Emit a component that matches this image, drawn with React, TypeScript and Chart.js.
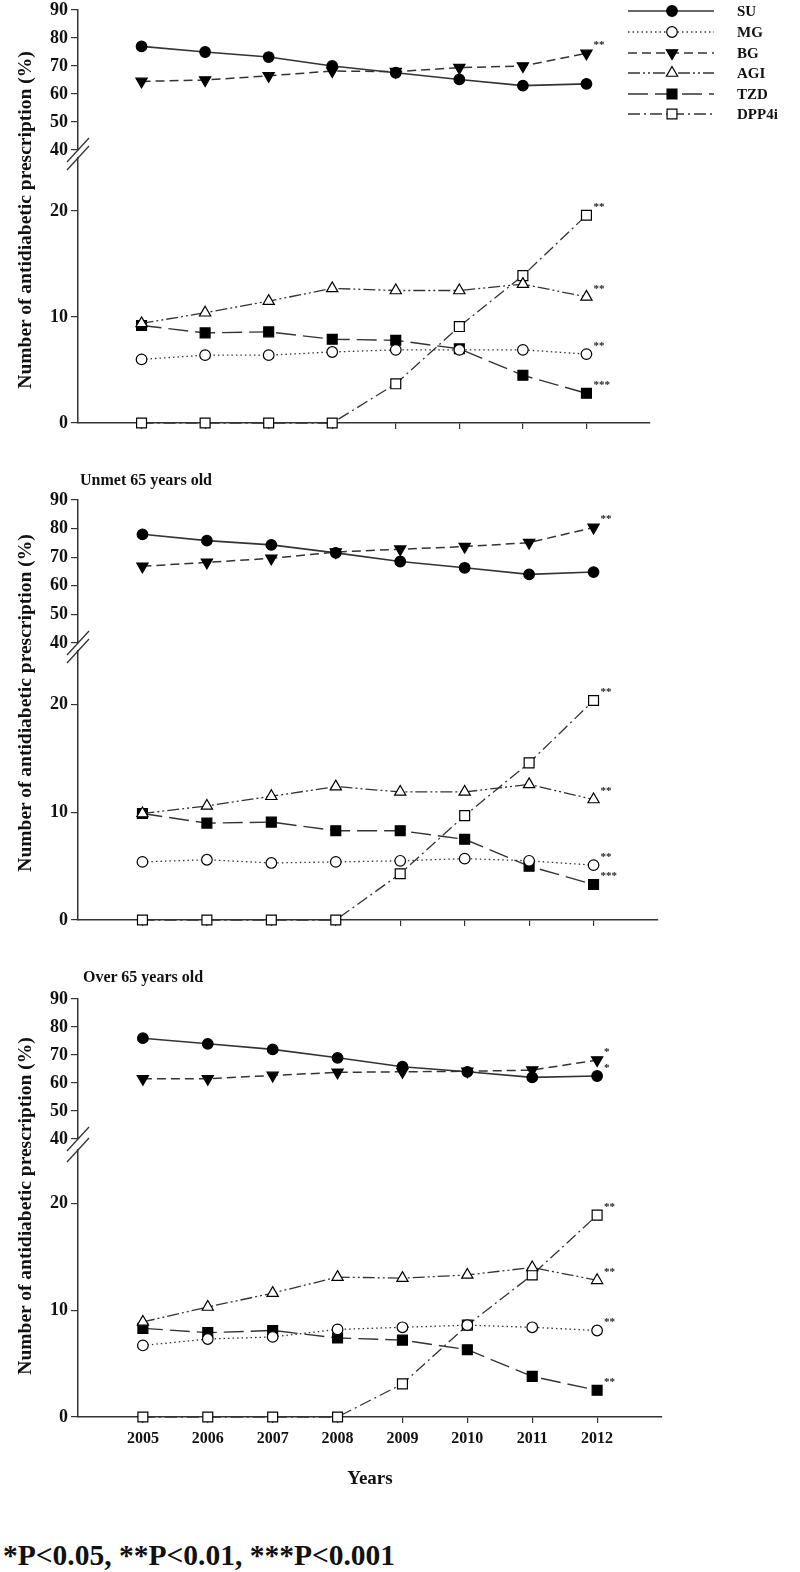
import React, { useEffect, useRef } from 'react';
import { Chart, registerables } from 'chart.js';

Chart.register(...registerables);

const FONT = "'Liberation Serif', 'Times New Roman', serif";
Chart.defaults.font.family = FONT;
Chart.defaults.font.weight = 'bold';

// ---------- data ----------
const years = [2005, 2006, 2007, 2008, 2009, 2010, 2011, 2012];
const seriesNames = ['SU', 'MG', 'BG', 'AGI', 'TZD', 'DPP4i'];
const upperTicks = [40, 50, 60, 70, 80, 90];
const lowerTicks = [0, 10, 20];

// Panel 1 (all patients)
const su1 = [77, 75, 73.2, 70, 67.6, 65.2, 63, 63.6];
const mg1 = [6.0, 6.4, 6.4, 6.7, 6.9, 6.9, 6.9, 6.5];
const bg1 = [64.5, 65, 66.5, 68.2, 68, 69.4, 70, 74.5];
const agi1 = [9.4, 10.4, 11.5, 12.7, 12.5, 12.5, 13.1, 11.9];
const tzd1 = [9.2, 8.5, 8.6, 7.9, 7.8, 7.0, 4.5, 2.8];
const dpp1 = [0, 0, 0, 0, 3.7, 9.1, 13.9, 19.6];
const sig1 = ['', '**', '**', '**', '***', '**'];

// Panel 2 (Unmet 65 years old)
const su2 = [78, 75.8, 74.3, 71.5, 68.5, 66.3, 64, 64.8];
const mg2 = [5.4, 5.6, 5.3, 5.4, 5.5, 5.7, 5.5, 5.1];
const bg2 = [66.8, 68.2, 69.6, 71.8, 72.8, 73.7, 75.1, 80.4];
const agi2 = [9.9, 10.6, 11.5, 12.4, 11.9, 11.9, 12.6, 11.2];
const tzd2 = [9.9, 9.0, 9.1, 8.3, 8.3, 7.5, 5.0, 3.3];
const dpp2 = [0, 0, 0, 0, 4.3, 9.7, 14.6, 20.4];
const sig2 = ['', '**', '**', '**', '***', '**'];

// Panel 3 (Over 65 years old)
const su3 = [76, 74, 72, 69, 65.8, 64, 62, 62.5];
const mg3 = [6.7, 7.3, 7.5, 8.2, 8.4, 8.6, 8.4, 8.1];
const bg3 = [61.5, 61.5, 62.7, 63.8, 64, 64.2, 64.6, 68.2];
const agi3 = [8.9, 10.3, 11.6, 13.1, 13.0, 13.3, 14.0, 12.8];
const tzd3 = [8.3, 7.9, 8.1, 7.4, 7.2, 6.3, 3.8, 2.5];
const dpp3 = [0, 0, 0, 0, 3.1, 8.6, 13.3, 18.9];
const sig3 = ['*', '**', '*', '**', '**', '**'];

const panelTitles = ['', 'Unmet 65 years old', 'Over 65 years old'];
const yTitle = 'Number of antidiabetic prescription (%)';
const xTitle = 'Years';
const footnote = '*P<0.05, **P<0.01, ***P<0.001';

// ---------- styles ----------
const STYLES: any = {
  SU: { dash: [], point: 'circle', r: 5.3, fill: '#000', width: 1.6, rot: 0 },
  MG: { dash: [1.5, 3], point: 'circle', r: 5.3, fill: '#fff', width: 1.3, rot: 0 },
  BG: { dash: [9, 5], point: 'triangle', r: 6.5, fill: '#000', width: 1.5, rot: 180 },
  AGI: { dash: [12, 3, 2, 3, 2, 3], point: 'triangle', r: 6.5, fill: '#fff', width: 1.3, rot: 0 },
  TZD: { dash: [20, 7], point: 'rect', r: 7, fill: '#000', width: 1.4, rot: 0 },
  DPP4i: { dash: [12, 4, 2, 4], point: 'rect', r: 7, fill: '#fff', width: 1.3, rot: 0 },
};
const LINE = '#333';

function ds(name: string, data: number[], sig: string) {
  const s = STYLES[name];
  return {
    label: name,
    data: data.map((v, i) => ({ x: years[i], y: v })),
    borderColor: LINE,
    borderWidth: s.width,
    borderDash: s.dash,
    pointStyle: s.point,
    pointRadius: s.r,
    pointRotation: s.rot,
    pointBackgroundColor: s.fill,
    pointBorderColor: '#000',
    pointBorderWidth: 1.2,
    fill: false,
    tension: 0,
    clip: false,
    sig,
  };
}

function drawMarker(ctx: CanvasRenderingContext2D, name: string, x: number, y: number) {
  const s = STYLES[name];
  ctx.save();
  ctx.setLineDash([]);
  ctx.beginPath();
  if (s.point === 'circle') {
    ctx.arc(x, y, s.r, 0, Math.PI * 2);
  } else if (s.point === 'triangle') {
    let rad = (s.rot * Math.PI) / 180;
    ctx.moveTo(x + Math.sin(rad) * s.r, y - Math.cos(rad) * s.r);
    rad += (2 * Math.PI) / 3;
    ctx.lineTo(x + Math.sin(rad) * s.r, y - Math.cos(rad) * s.r);
    rad += (2 * Math.PI) / 3;
    ctx.lineTo(x + Math.sin(rad) * s.r, y - Math.cos(rad) * s.r);
    ctx.closePath();
  } else {
    const h = Math.SQRT1_2 * s.r;
    ctx.rect(x - h, y - h, 2 * h, 2 * h);
  }
  ctx.fillStyle = s.fill;
  ctx.fill();
  ctx.lineWidth = 1.2;
  ctx.strokeStyle = '#000';
  ctx.stroke();
  ctx.restore();
}

const legendPlugin = {
  id: 'customLegend',
  afterDraw(chart: any) {
    if (!chart.options.plugins.customLegend?.show) return;
    const ctx = chart.ctx;
    const ys = [15, 36, 57, 77, 98, 118];
    seriesNames.forEach((name, i) => {
      const s = STYLES[name];
      const y = ys[i];
      ctx.save();
      ctx.strokeStyle = LINE;
      ctx.lineWidth = s.width;
      ctx.setLineDash(s.dash);
      ctx.beginPath();
      ctx.moveTo(628, y);
      ctx.lineTo(714, y);
      ctx.stroke();
      ctx.restore();
      drawMarker(ctx, name, 672, y);
      ctx.save();
      ctx.fillStyle = '#111';
      ctx.font = `bold 15px ${FONT}`;
      ctx.textAlign = 'left';
      ctx.textBaseline = 'middle';
      ctx.fillText(name, 737, y + 1);
      ctx.restore();
    });
  },
};

const sigPlugin = {
  id: 'sigMarks',
  afterDatasetsDraw(chart: any) {
    const ctx = chart.ctx;
    chart.data.datasets.forEach((d: any, i: number) => {
      if (!d.sig) return;
      const meta = chart.getDatasetMeta(i);
      const el = meta.data[meta.data.length - 1];
      ctx.save();
      ctx.fillStyle = '#222';
      ctx.font = `bold 11px ${FONT}`;
      ctx.textAlign = 'left';
      ctx.textBaseline = 'middle';
      ctx.fillText(d.sig, el.x + 7, el.y - 8);
      ctx.restore();
    });
  },
};

const breakPlugin = {
  id: 'axisBreak',
  afterDraw(chart: any) {
    const opt = chart.options.plugins.axisBreak;
    if (!opt?.gap) return;
    const ctx = chart.ctx;
    const x = chart.chartArea.left;
    const t = chart.chartArea.top;
    ctx.save();
    ctx.strokeStyle = '#333';
    ctx.lineWidth = 1.3;
    [t - opt.gap, t].forEach((c) => {
      ctx.beginPath();
      ctx.moveTo(x - 11, c + 12);
      ctx.lineTo(x + 11, c - 12);
      ctx.stroke();
    });
    ctx.restore();
  },
};

type Spec = {
  top: number;
  height: number;
  axisX: number;
  axisEnd: number;
  padTop: number;
  padBottom: number;
  yMin: number;
  yMax: number;
  yTicks: number[];
  xMode: 'none' | 'ticks' | 'full';
  xHeight: number;
  datasets: any[];
  legend?: boolean;
  gap?: number;
};

function buildConfig(spec: Spec): any {
  return {
    type: 'line',
    data: { datasets: spec.datasets },
    plugins: [legendPlugin, sigPlugin, breakPlugin],
    options: {
      responsive: false,
      maintainAspectRatio: false,
      animation: false,
      devicePixelRatio: 1,
      events: [],
      layout: { padding: { top: spec.padTop, bottom: spec.padBottom, left: 0, right: 800 - spec.axisEnd } },
      plugins: {
        legend: { display: false },
        tooltip: { enabled: false },
        customLegend: { show: !!spec.legend },
        axisBreak: { gap: spec.gap || 0 },
      },
      scales: {
        x: {
          type: 'linear',
          min: 2004,
          max: 2013,
          display: spec.xMode !== 'none',
          afterBuildTicks: (s: any) => {
            s.ticks = years.map((v) => ({ value: v }));
          },
          afterFit: (s: any) => {
            s.height = spec.xHeight;
          },
          ticks: {
            display: spec.xMode === 'full',
            autoSkip: false,
            maxRotation: 0,
            padding: 6,
            color: '#111',
            font: { size: 16, weight: 'bold' },
            callback: (v: any) => String(v),
          },
          grid: { drawOnChartArea: false, drawTicks: true, tickLength: 6, color: '#333', lineWidth: 1.2 },
          border: { display: true, color: '#333', width: 1.5 },
          title: {
            display: spec.xMode === 'full',
            text: xTitle,
            color: '#111',
            font: { size: 19, weight: 'bold' },
            padding: { top: 0, bottom: 0 },
          },
        },
        y: {
          type: 'linear',
          position: 'left',
          min: spec.yMin,
          max: spec.yMax,
          afterBuildTicks: (s: any) => {
            s.ticks = spec.yTicks.map((v) => ({ value: v }));
          },
          afterFit: (s: any) => {
            s.width = spec.axisX;
          },
          ticks: { color: '#111', padding: 3, font: { size: 18, weight: 'bold' } },
          grid: { drawOnChartArea: false, drawTicks: true, tickLength: 7, color: '#333', lineWidth: 1.2 },
          border: { display: true, color: '#333', width: 1.5 },
        },
      },
    },
  };
}

function ChartCanvas({ spec }: { spec: Spec }) {
  const ref = useRef<HTMLCanvasElement | null>(null);
  useEffect(() => {
    if (!ref.current) return;
    const chart = new Chart(ref.current, buildConfig(spec));
    return () => chart.destroy();
  }, []);
  return (
    <canvas
      ref={ref}
      width={800}
      height={spec.height}
      style={{ position: 'absolute', left: 0, top: spec.top, width: 800, height: spec.height }}
    />
  );
}

type PanelGeom = {
  upperTop: number;
  upperBottom: number;
  lowerTop: number;
  zeroY: number;
  axisX: number;
  axisEnd: number;
  full: boolean;
  legend: boolean;
};

function panelSpecs(g: PanelGeom, su: number[], mg: number[], bg: number[], agi: number[], tzd: number[], dpp: number[], sig: string[]): Spec[] {
  const padU = 14;
  const upper: Spec = {
    top: g.upperTop - padU,
    height: g.upperBottom - g.upperTop + padU * 2,
    axisX: g.axisX,
    axisEnd: g.axisEnd,
    padTop: padU,
    padBottom: padU,
    yMin: 40,
    yMax: 90,
    yTicks: upperTicks,
    xMode: 'none',
    xHeight: 0,
    datasets: [ds('SU', su, sig[0]), ds('BG', bg, sig[2])],
    legend: g.legend,
  };
  const padT = 24;
  const xH = g.full ? 73 : 10;
  const padB = g.full ? 4 : 6;
  const lower: Spec = {
    top: g.lowerTop - padT,
    height: g.zeroY - g.lowerTop + padT + xH + padB,
    axisX: g.axisX,
    axisEnd: g.axisEnd,
    padTop: padT,
    padBottom: padB,
    yMin: 0,
    yMax: 25,
    yTicks: lowerTicks,
    xMode: g.full ? 'full' : 'ticks',
    xHeight: xH,
    datasets: [ds('MG', mg, sig[1]), ds('AGI', agi, sig[3]), ds('TZD', tzd, sig[4]), ds('DPP4i', dpp, sig[5])],
    gap: g.lowerTop - g.upperBottom,
  };
  return [upper, lower];
}

const geoms: PanelGeom[] = [
  { upperTop: 10, upperBottom: 150, lowerTop: 158, zeroY: 423, axisX: 78, axisEnd: 650, full: false, legend: true },
  { upperTop: 500, upperBottom: 643, lowerTop: 651, zeroY: 920, axisX: 78, axisEnd: 658, full: false, legend: false },
  { upperTop: 999, upperBottom: 1139, lowerTop: 1150, zeroY: 1417, axisX: 78, axisEnd: 662, full: true, legend: false },
];

const allSpecs: Spec[] = [
  ...panelSpecs(geoms[0], su1, mg1, bg1, agi1, tzd1, dpp1, sig1),
  ...panelSpecs(geoms[1], su2, mg2, bg2, agi2, tzd2, dpp2, sig2),
  ...panelSpecs(geoms[2], su3, mg3, bg3, agi3, tzd3, dpp3, sig3),
];

const yTitleCenters = [
  [25, 220],
  [25, 703],
  [25, 1206],
];
const panelTitlePos = [
  [0, 0],
  [80, 471],
  [83, 968],
];

const textBase: any = {
  position: 'absolute',
  fontFamily: FONT,
  fontWeight: 'bold',
  color: '#111',
  whiteSpace: 'nowrap',
  margin: 0,
};

export default function App() {
  return (
    <div style={{ position: 'absolute', left: 0, top: 0, width: 800, height: 1572, background: '#fff', overflow: 'hidden' }}>
      {allSpecs.map((s, i) => (
        <ChartCanvas key={i} spec={s} />
      ))}
      {yTitleCenters.map(([cx, cy], i) => (
        <div
          key={'yt' + i}
          style={{
            ...textBase,
            left: cx,
            top: cy,
            fontSize: 19.5,
            lineHeight: '22px',
            transform: 'translate(-50%, -50%) rotate(-90deg)',
          }}
        >
          {yTitle}
        </div>
      ))}
      {panelTitles.map((t, i) =>
        t ? (
          <div key={'pt' + i} style={{ ...textBase, left: panelTitlePos[i][0], top: panelTitlePos[i][1], fontSize: 16, lineHeight: '18px' }}>
            {t}
          </div>
        ) : null
      )}
      <div style={{ ...textBase, left: 3, top: 1538, fontSize: 29.5, lineHeight: '34px' }}>{footnote}</div>
    </div>
  );
}
